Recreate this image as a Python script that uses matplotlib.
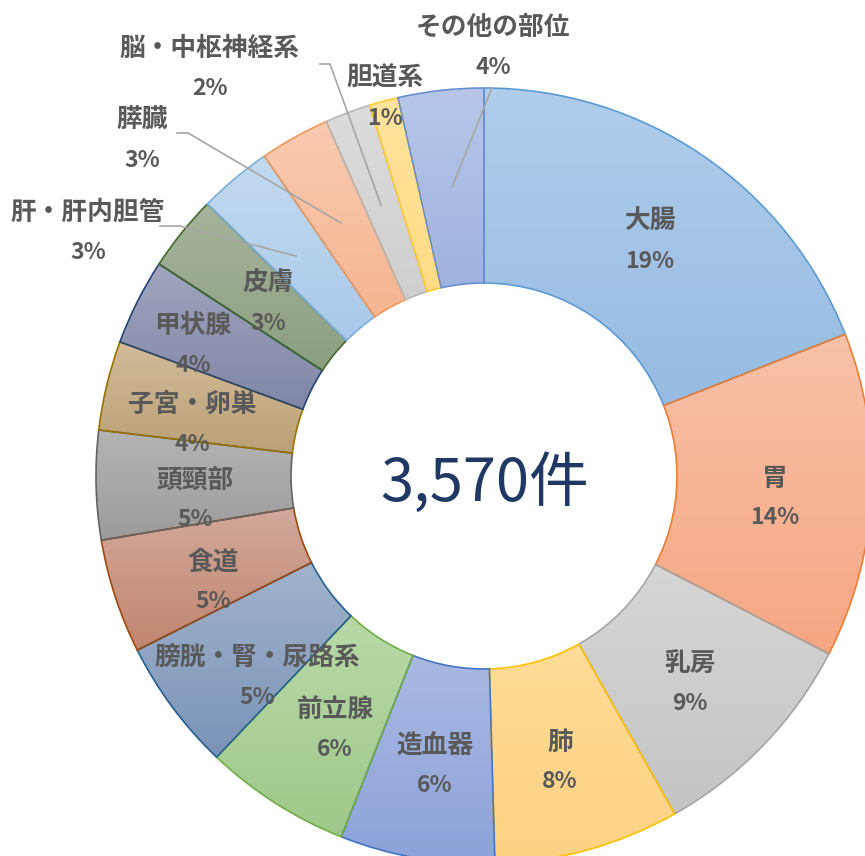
import matplotlib

matplotlib.use("Agg")
import matplotlib.pyplot as plt
import numpy as np
from matplotlib.colors import LinearSegmentedColormap

plt.rcParams["font.family"] = ["Noto Sans CJK JP", "DejaVu Sans"]

# 部位別件数 (時計回り、12時の位置から)
sites = [
    "大腸", "胃", "乳房", "肺", "造血器", "前立腺", "膀胱・腎・尿路系", "食道",
    "頭頸部", "子宮・卵巣", "甲状腺", "皮膚", "肝・肝内胆管", "膵臓",
    "脳・中枢神経系", "胆道系", "その他の部位",
]
counts = [680, 483, 330, 276, 230, 218, 196, 170, 162, 133, 128, 113, 109, 104, 68, 43, 127]

# 塗り(上→下のグラデーション)と枠線の色
fill_top = [
    "#b0cdeb", "#f8c2a8", "#d6d6d6", "#ffdc97", "#a9b9e2", "#b8d9a7", "#a1b3cb", "#d2a99b",
    "#b4b4b4", "#d1bb9a", "#a0a6be", "#a7b49d", "#c3daf0", "#f9cbb2", "#dcdcdc", "#ffe49e", "#b7c6e8",
]
fill_bottom = [
    "#97bbe2", "#f5a683", "#c4c4c4", "#fdd283", "#8ca2d9", "#9ec889", "#7a94b8", "#c18570",
    "#9c9c9c", "#bba176", "#8086a6", "#8b9e80", "#a8c9e9", "#f5b590", "#cfcfcf", "#ffdb84", "#9fb3df",
]
edge_colors = [
    "#5b9bd5", "#ed7d31", "#a5a5a5", "#ffc000", "#4472c4", "#70ad47", "#255e91", "#9e480e",
    "#636363", "#997300", "#264478", "#43682b", "#7cafdd", "#f1975a", "#b7b7b7", "#ffcd33", "#698ed0",
]

# ラベル位置 (画像座標: x, 部位名の中心y)
label_pos = [
    (650, 221), (775, 478), (690, 664), (560, 742), (435, 746), (335, 710), (257, 657),
    (213, 562), (195, 480), (192, 404), (193, 325), (268, 283), (88, 212), (142, 120),
    (210, 48), (385, 78), (493, 27),
]
leaders = {
    12: [(160, 226), (180, 226), (296, 256)],
    13: [(177, 133), (188, 133), (341, 223)],
    14: [(320, 64), (330, 64), (381, 205)],
    16: [(492, 88), (452, 187)],
}

W, H = 865, 856
fig = plt.figure(figsize=(W / 100, H / 100), dpi=100)
ax = fig.add_axes([0, 0, 1, 1])


def up(y):
    return H - y


outer, inner = 388, 193
wedges, _ = ax.pie(
    counts, startangle=90, counterclock=False, center=(484, up(476)), radius=outer,
    wedgeprops=dict(width=outer - inner, linewidth=1.2),
)

for w, top, bot, ec in zip(wedges, fill_top, fill_bottom, edge_colors):
    ext = w.get_path().get_extents()
    cmap = LinearSegmentedColormap.from_list("g", [bot, top])
    grad = np.linspace(0, 1, 128).reshape(-1, 1)
    im = ax.imshow(grad, cmap=cmap, extent=(ext.x0, ext.x1, ext.y0, ext.y1), origin="lower",
                   aspect="auto", interpolation="bilinear", zorder=1.5)
    im.set_clip_path(w)
    w.set_facecolor("none")
    w.set_edgecolor(ec)
    w.set_zorder(2)

total = sum(counts)
label_color = "#595959"
for i, (name, n) in enumerate(zip(sites, counts)):
    x, y = label_pos[i]
    pct = f"{round(n / total * 100)}%"
    ax.text(x, up(y), name, ha="center", va="center", fontsize=18.5, fontweight="bold",
            color=label_color, zorder=4)
    ax.text(x, up(y + 40), pct, ha="center", va="center", fontsize=16.5, fontweight="bold",
            color=label_color, zorder=4)

for pts in leaders.values():
    xs = [p[0] for p in pts]
    ys = [up(p[1]) for p in pts]
    ax.plot(xs, ys, color="#a6a6a6", lw=1.2, zorder=3)

ax.text(485, up(484), f"{total:,}件", ha="center", va="center", fontsize=43,
        color="#203864", zorder=4)

ax.set_xlim(0, W)
ax.set_ylim(0, H)
ax.set_aspect("equal")
ax.axis("off")
fig.savefig("out.png", dpi=100)
